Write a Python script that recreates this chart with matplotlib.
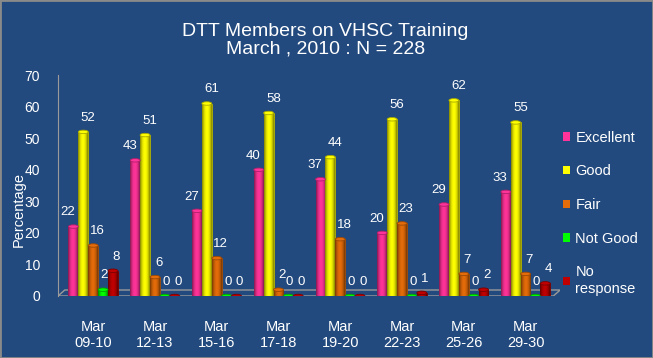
import matplotlib.pyplot as plt
import numpy as np
from matplotlib.patches import Ellipse, Rectangle, Polygon

plt.rcParams['font.family'] = ['Liberation Sans', 'DejaVu Sans']

# Data
sesi = ['Mar\n09-10', 'Mar\n12-13', 'Mar\n15-16', 'Mar\n17-18',
        'Mar\n19-20', 'Mar\n22-23', 'Mar\n25-26', 'Mar\n29-30']
kategori = ['Excellent', 'Good', 'Fair', 'Not Good', 'No\nresponse']
excellent = [22, 43, 27, 40, 37, 20, 29, 33]
good = [52, 51, 61, 58, 44, 56, 62, 55]
fair = [16, 6, 12, 2, 18, 23, 7, 7]
not_good = [2, 0, 0, 0, 0, 0, 0, 0]
no_response = [8, 0, 0, 0, 0, 1, 2, 4]

series = [excellent, good, fair, not_good, no_response]
warna = ['#FF3399', '#FFFF00', '#E46C0A', '#00FF00', '#C00000']
warna_gelap = ['#B0206A', '#A8A800', '#9A4806', '#00A000', '#780000']
geser_label = [-0.09, 0.08, 0.06, 0.02, 0.05]   # offset label per seri

bg = '#234A7E'
fig = plt.figure(figsize=(6.53, 3.58), dpi=100, facecolor=bg)
ax = fig.add_axes([0.0888, 0.1732, 0.769, 0.617])
ax.set_facecolor(bg)

x = np.arange(len(sesi))
lebar = 0.16

# Lantai 3D sederhana
lantai = Polygon([[-0.57, 0], [7.45, 0], [7.56, 1.9], [-0.46, 1.9]],
                 closed=True, fill=False, edgecolor='#9a9a9a', lw=1, zorder=1)
ax.add_patch(lantai)

# gradasi horizontal untuk efek silinder
grad = np.linspace(-1, 1, 64)
shade = 1 - 0.5 * grad ** 2

for i, (nilai, c, cg) in enumerate(zip(series, warna, warna_gelap)):
    pos = x + (i - 2) * lebar
    bars = ax.bar(pos, nilai, width=lebar, color=c, edgecolor=cg, lw=0.6, zorder=3)
    rgb = np.array(plt.matplotlib.colors.to_rgb(c))
    img = np.clip(shade[None, :, None] * rgb[None, None, :], 0, 1)
    for b, v, p in zip(bars, nilai, pos):
        if v > 0:
            im = ax.imshow(img, extent=[p - lebar / 2, p + lebar / 2, 0, v],
                           aspect='auto', zorder=3.5, interpolation='bilinear')
            im.set_clip_path(b)
        # tutup atas silinder
        ax.add_patch(Ellipse((p, v), lebar, 1.1, facecolor=c, edgecolor=cg, lw=0.6, zorder=4))
        ax.text(p + geser_label[i], v + 4.5, str(v), color='white', fontsize=9.5,
                ha='center', va='center', zorder=5)

ax.set_xlim(-0.57, 7.56)
ax.set_ylim(0, 70)
ax.set_yticks(range(0, 71, 10))
ax.set_xticks(x)
ax.set_xticklabels(sesi, fontsize=10.5, color='white', linespacing=1.25)
ax.tick_params(axis='y', colors='white', labelsize=10, length=0, pad=13)
ax.tick_params(axis='x', colors='white', length=0, pad=17)
for s in ['top', 'right', 'bottom']:
    ax.spines[s].set_visible(False)
ax.spines['left'].set_color('#9a9a9a')

fig.text(0.028, 0.415, 'Percentage', rotation=90, color='white', fontsize=10.5,
         ha='center', va='center')

fig.text(0.498, 0.888, 'DTT Members on VHSC Training\nMarch , 2010 : N = 228',
         color='white', fontsize=14, ha='center', va='center', linespacing=1.05)

# Legend
handles = [Rectangle((0, 0), 1, 1, facecolor=c, edgecolor='none') for c in warna]
leg = fig.legend(handles, kategori, loc='upper left', bbox_to_anchor=(0.862, 0.635),
                 frameon=False, fontsize=10.5, labelcolor='white', handlelength=0.5,
                 handleheight=0.5, handletextpad=0.35, labelspacing=1.35,
                 borderpad=0, borderaxespad=0)

# bingkai gambar
fig.patches.append(Rectangle((0, 0), 1, 1, transform=fig.transFigure, fill=False,
                             edgecolor='#8a8a8a', lw=2))

fig.savefig('out.png', dpi=100, facecolor=bg)
